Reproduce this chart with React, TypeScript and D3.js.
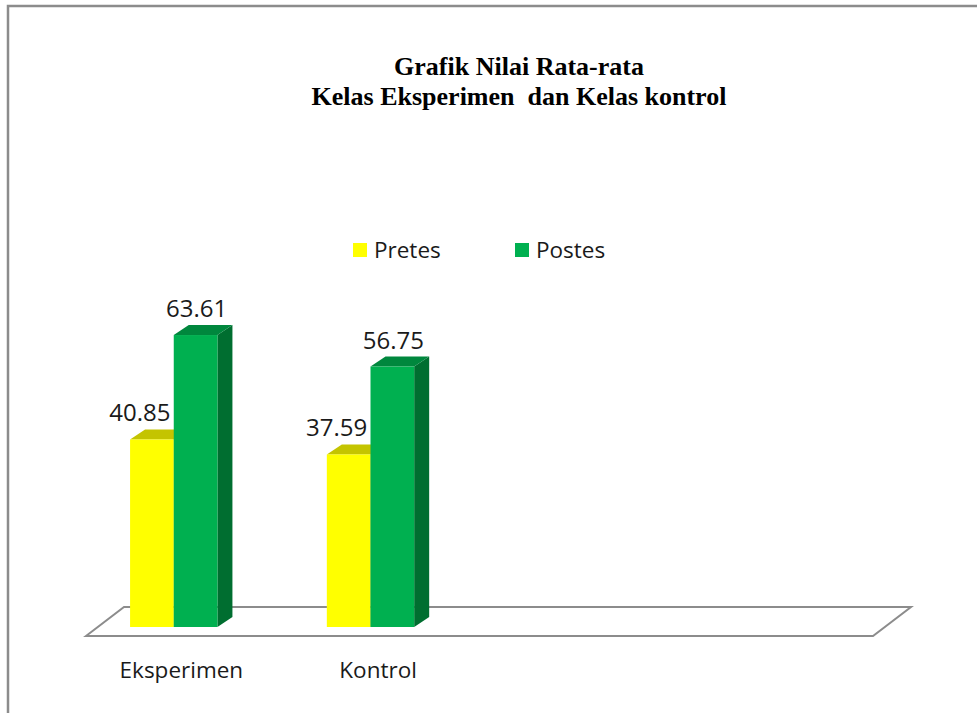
import { useEffect, useRef } from "react"
import * as d3 from "d3"

// data
const categories = ["Eksperimen", "Kontrol", "", ""]
const seriesNames = ["Pretes", "Postes"]
const pretes = [40.85, 37.59]
const postes = [63.61, 56.75]
const titleLines = ["Grafik Nilai Rata-rata", "Kelas Eksperimen  dan Kelas kontrol"]

export default function App() {
  const svgRef = useRef(null)

  useEffect(() => {
    if (!svgRef.current) return
    const svg = d3.select(svgRef.current)
    svg.selectAll("*").remove()

    const width = 977
    const height = 713
    const sans = "'Open Sans', sans-serif"

    // frame
    svg.append("path")
      .attr("d", `M8,${height} L8,6 L${width},6`)
      .attr("fill", "none")
      .attr("stroke", "#8c8c8c")
      .attr("stroke-width", 2.5)

    // title
    svg.append("text")
      .attr("x", 519)
      .attr("y", 75)
      .attr("text-anchor", "middle")
      .attr("font-family", "'Liberation Serif', 'Times New Roman', serif")
      .attr("font-weight", "bold")
      .attr("font-size", "26px")
      .attr("xml:space", "preserve")
      .selectAll("tspan")
      .data(titleLines)
      .enter()
      .append("tspan")
      .attr("x", 519)
      .attr("dy", (d, i) => (i === 0 ? 0 : 30))
      .text((d) => d)

    // scales
    const floorFront = 636
    const x = d3.scaleBand().domain(categories.map((c, i) => c + i)).range([86, 873])
    const y = d3.scaleLinear().domain([0, 70]).range([627, 627 - 70 * 4.59])
    const bw = x.bandwidth()
    const barW = bw * 0.222
    const groupOff = bw * 0.224
    const dx = 15
    const dy = 10
    const fdx = 38
    const fdy = 29

    // floor
    const fx0 = x.range()[0]
    const fx1 = x.range()[1]
    svg.append("path")
      .attr("d", `M${fx0},${floorFront} L${fx0 + fdx},${floorFront - fdy} L${fx1 + fdx},${floorFront - fdy} L${fx1},${floorFront} Z`)
      .attr("fill", "#ffffff")
      .attr("stroke", "#8c8c8c")
      .attr("stroke-width", 2)

    const colors = [
      { front: "#ffff00", top: "#c4c400", side: "#a8a800" },
      { front: "#00b050", top: "#00873d", side: "#006e30" },
    ]
    const labelShift = [-12, 1]
    const values = [pretes, postes]

    const g = svg.append("g")
    categories.forEach((c, ci) => {
      values.forEach((vals, si) => {
        const v = vals[ci]
        if (v === undefined) return
        const x0 = (x(c + ci) as number) + groupOff + si * barW
        const x1 = x0 + barW
        const yt = y(v)
        const yb = y(0)
        const col = colors[si]
        // side
        g.append("path")
          .attr("d", `M${x1},${yt} L${x1 + dx},${yt - dy} L${x1 + dx},${yb - dy} L${x1},${yb} Z`)
          .attr("fill", col.side)
        // top
        g.append("path")
          .attr("d", `M${x0},${yt} L${x0 + dx},${yt - dy} L${x1 + dx},${yt - dy} L${x1},${yt} Z`)
          .attr("fill", col.top)
        // front
        g.append("rect")
          .attr("x", x0)
          .attr("y", yt)
          .attr("width", barW)
          .attr("height", yb - yt)
          .attr("fill", col.front)
        // label
        g.append("text")
          .attr("x", (x0 + x1) / 2 + labelShift[si])
          .attr("y", yt - dy - 8)
          .attr("text-anchor", "middle")
          .attr("font-family", sans)
          .attr("font-size", "24px")
          .attr("fill", "#1a1a1a")
          .text(v.toFixed(2))
      })
    })

    // category labels
    svg.selectAll(".cat")
      .data(categories)
      .enter()
      .append("text")
      .attr("class", "cat")
      .attr("x", (d, i) => (x(d + i) as number) + bw / 2 - 3)
      .attr("y", 678)
      .attr("text-anchor", "middle")
      .attr("font-family", sans)
      .attr("font-size", "22.5px")
      .attr("fill", "#1a1a1a")
      .text((d) => d)

    // legend
    const legendX = [353, 515]
    seriesNames.forEach((name, i) => {
      const lg = svg.append("g").attr("transform", `translate(${legendX[i]}, 243)`)
      lg.append("rect")
        .attr("width", 14)
        .attr("height", 14)
        .attr("fill", colors[i].front)
      lg.append("text")
        .attr("x", 21)
        .attr("y", 15)
        .attr("font-family", sans)
        .attr("font-size", "22.5px")
        .attr("fill", "#1a1a1a")
        .text(name)
    })

    svg
      .attr("width", width)
      .attr("height", height)
      .attr("viewBox", [0, 0, width, height])
  }, [])

  return (
    <div style={{ position: "absolute", left: 0, top: 0, background: "#fff" }}>
      <svg ref={svgRef} style={{ display: "block" }}></svg>
    </div>
  )
}
